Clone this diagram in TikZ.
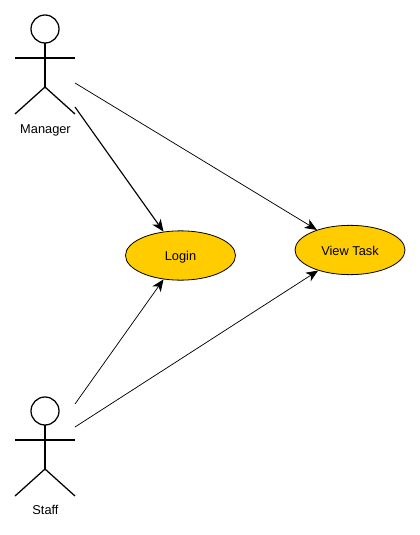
\documentclass[tikz,border=0pt]{standalone}
\usepackage{fontspec}
\setmainfont{Liberation Sans}
\usepackage{tikz}
\usetikzlibrary{arrows.meta}
\usetikzlibrary{shapes.geometric}

\definecolor{usecasefill}{HTML}{FFCC00}

\tikzset{
    usecase/.style={draw, ellipse, fill=usecasefill, line width=0.6pt, inner sep=0pt,
        minimum width=82.5pt, minimum height=37pt, text height=8.2pt, text depth=0pt,
        font=\fontsize{9.6}{11}\selectfont},
    actorname/.style={inner sep=0pt, text height=8.2pt, text depth=0pt,
        font=\fontsize{9.6}{11}\selectfont},
    link/.style={-{Stealth[length=9pt, width=7.5pt, inset=2.5pt]}, line width=0.55pt},
    actorfig/.pic={
        \draw[line width=0.95pt] (0, -14) circle[radius=14];
        \draw[line width=0.95pt] (0, 0) -- (0, 44);
        \draw[line width=0.95pt] (-30, 15) -- (30, 15);
        \draw[line width=0.95pt] (-30, 71) -- (0, 44) -- (30, 71);
    }
}

\begin{document}
\begin{tikzpicture}[x=0.75pt, y=-0.75pt]
    \useasboundingbox (0, 0) rectangle (420, 535);
    \pic at (45, 43) {actorfig};
    \pic at (45, 425) {actorfig};
    \node[actorname] (manager) at (45.5, 128.5) {Manager};
    \node[actorname] (staff) at (45.5, 509.5) {Staff};
    \node[usecase] (login) at (180.5, 255.5) {Login};
    \node[usecase] (viewtask) at (350, 250) {View Task};
    \coordinate (managerup) at (75, 83);
    \coordinate (managerdown) at (75, 107);
    \coordinate (staffup) at (75, 404);
    \coordinate (staffdown) at (75, 427);
    \draw[link] (managerup) -- (viewtask);
    \draw[link, line width=0.85pt] (managerdown) -- (login);
    \draw[link] (staffup) -- (login);
    \draw[link] (staffdown) -- (viewtask);
\end{tikzpicture}
\end{document}
